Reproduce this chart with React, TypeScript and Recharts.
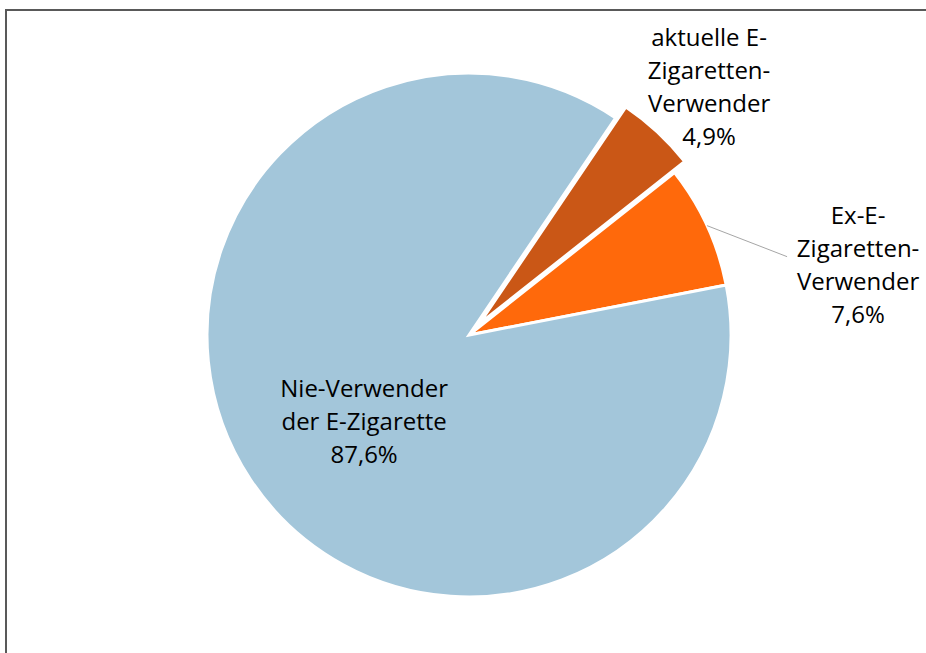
import React from "react";
import { PieChart, Pie, Cell } from "recharts";

const labels = ["Ex-E-Zigaretten-Verwender", "aktuelle E-Zigaretten-Verwender", "Nie-Verwender der E-Zigarette"];
const shares = [7.6, 4.9, 87.6];
const shareText = ["7,6%", "4,9%", "87,6%"];
const labelLines = [
  ["Ex-E-", "Zigaretten-", "Verwender"],
  ["aktuelle E-", "Zigaretten-", "Verwender"],
  ["Nie-Verwender", "der E-Zigarette"],
];
const colors = ["#FF690B", "#CA5716", "#A3C6DA"];

const data = labels.map((name, i) => ({ name, value: shares[i] }));

const CX = 469;
const CY = 335;
const R = 262;
const START = 11;
const EXPLODE_INDEX = 1;
const EXPLODE = 15;

// label placement: offset from the point at midAngle / radius*k
const labelPos = [
  { k: 1, dx: 151, dy: 38, leader: true },
  { k: 1.29, dx: 0, dy: 9, leader: false },
  { k: 0.48, dx: 0, dy: 16, leader: false },
];

const RAD = Math.PI / 180;
const total = shares.reduce((a, b) => a + b, 0);
const before = shares.slice(0, EXPLODE_INDEX).reduce((a, b) => a + b, 0);
const explodeMid = START + (360 * (before + shares[EXPLODE_INDEX] / 2)) / total;
const ex = EXPLODE * Math.cos(explodeMid * RAD);
const ey = -EXPLODE * Math.sin(explodeMid * RAD);

const font = "'Open Sans', sans-serif";
const LINE = 33;

function renderLabel(props: any) {
  const { cx, cy, midAngle, outerRadius, index } = props;
  const p = labelPos[index];
  const px = cx + outerRadius * p.k * Math.cos(midAngle * RAD);
  const py = cy - outerRadius * p.k * Math.sin(midAngle * RAD);
  const lines = [...labelLines[index], shareText[index]];
  const lx = px + p.dx;
  const ly = py + p.dy;
  const top = ly - ((lines.length - 1) * LINE) / 2;
  const ox = cx + outerRadius * Math.cos(midAngle * RAD);
  const oy = cy - outerRadius * Math.sin(midAngle * RAD);
  return (
    <g key={`lbl-${index}`}>
      {p.leader && (
        <polyline
          points={`${ox},${oy} ${lx - 71},${ly - 7}`}
          fill="none"
          stroke="#A6A6A6"
          strokeWidth={1}
        />
      )}
      <text
        x={lx}
        y={top}
        textAnchor="middle"
        dominantBaseline="central"
        fontFamily={font}
        fontSize={24}
        fill="#000"
      >
        {lines.map((t, i) => (
          <tspan key={i} x={lx} y={top + i * LINE}>
            {t}
          </tspan>
        ))}
      </text>
    </g>
  );
}

function labelFor(which: "main" | "explode") {
  return (props: any) => {
    const isEx = props.index === EXPLODE_INDEX;
    if ((which === "main") === isEx) return <g key={`n-${props.index}`} />;
    return renderLabel(props);
  };
}

export default function App() {
  return (
    <div style={{ position: "absolute", left: 0, top: 0, width: 926, height: 653, background: "#fff" }}>
      <div
        style={{
          position: "absolute",
          left: 5,
          top: 9,
          width: 940,
          height: 660,
          borderLeft: "2px solid #595959",
          borderTop: "2px solid #595959",
        }}
      />
      <PieChart
        width={926}
        height={653}
        margin={{ top: 0, right: 0, bottom: 0, left: 0 }}
        style={{ position: "absolute", left: 0, top: 0 }}
      >
        <Pie
          data={data}
          dataKey="value"
          cx={CX}
          cy={CY}
          outerRadius={R}
          startAngle={START}
          endAngle={START + 360}
          stroke="#fff"
          strokeWidth={3}
          labelLine={false}
          label={labelFor("main")}
          isAnimationActive={false}
        >
          {data.map((d, i) => (
            <Cell
              key={d.name}
              fill={i === EXPLODE_INDEX ? "none" : colors[i]}
              stroke={i === EXPLODE_INDEX ? "none" : "#fff"}
            />
          ))}
        </Pie>
        <Pie
          data={data}
          dataKey="value"
          cx={CX + ex}
          cy={CY + ey}
          outerRadius={R}
          startAngle={START}
          endAngle={START + 360}
          stroke="#fff"
          strokeWidth={3}
          labelLine={false}
          label={labelFor("explode")}
          isAnimationActive={false}
        >
          {data.map((d, i) => (
            <Cell
              key={d.name}
              fill={i === EXPLODE_INDEX ? colors[i] : "none"}
              stroke={i === EXPLODE_INDEX ? "#fff" : "none"}
            />
          ))}
        </Pie>
      </PieChart>
    </div>
  );
}
